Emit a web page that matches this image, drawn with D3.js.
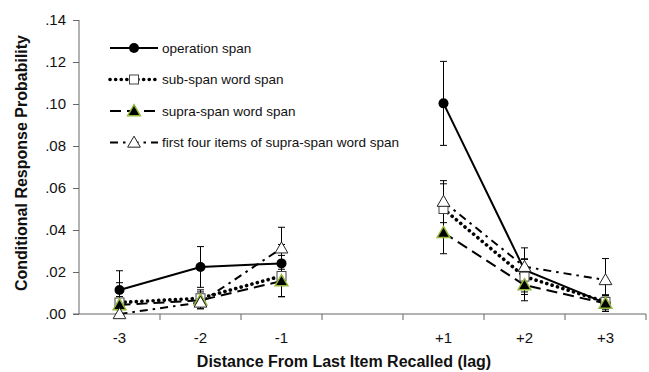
<!DOCTYPE html>
<html>
<head>
<meta charset="utf-8">
<script src="https://cdn.jsdelivr.net/npm/d3@7/dist/d3.min.js"></script>
<style>
  html, body { margin: 0; padding: 0; background: #fff; }
  svg { display: block; font-family: Arial, "Liberation Sans", sans-serif; }
</style>
</head>
<body>
<svg id="chart" width="649" height="372"></svg>
<script>
// ---- data ----
const categories = ["-3", "-2", "-1", "0", "+1", "+2", "+3"];
const yTicks = [0, 0.02, 0.04, 0.06, 0.08, 0.10, 0.12, 0.14];
const seriesNames = ["operation span", "sub-span word span", "supra-span word span", "first four items of supra-span word span"];

const operationSpan    = [0.0114, 0.0224, 0.0241, null, 0.1003, 0.0210, 0.0052];
const operationErr     = [0.0092, 0.0097, 0.0090, null, 0.0200, 0.0105, 0.0040];
const subSpan          = [0.0055, 0.0075, 0.0181, null, 0.0500, 0.0178, 0.0058];
const subSpanErr       = [0.0094, 0.0040, 0.0098, null, 0.0120, 0.0085, 0.0030];
const supraSpan        = [0.0043, 0.0065, 0.0157, null, 0.0387, 0.0138, 0.0050];
const supraSpanErr     = [0.0040, 0.0040, 0.0075, null, 0.0100, 0.0075, 0.0030];
const firstFour        = [0.0000, 0.0055, 0.0313, null, 0.0535, 0.0225, 0.0162];
const firstFourErr     = [0.0030, 0.0030, 0.0100, null, 0.0100, 0.0035, 0.0102];

(function () {
// ---- layout ----
const svg = d3.select("#chart");
const pL = 79, pR = 646, pT = 20, pB = 314;
const x = d3.scaleBand().domain(categories).range([pL, pR]).paddingInner(0).paddingOuter(0);
const y = d3.scaleLinear().domain([0, 0.14]).range([pB, pT]);
const cx = c => x(c) + x.bandwidth() / 2;
const green = "#93b83a";

// ---- axes ----
const yAxis = svg.append("g").attr("transform", `translate(${pL},0)`)
  .call(d3.axisLeft(y).tickValues(yTicks).tickSize(6).tickPadding(7)
    .tickFormat(d => d3.format(".2f")(d).replace(/^0/, "")));
yAxis.select(".domain").attr("stroke", "#666").attr("d", `M0,${pT}V${pB}`);
yAxis.selectAll(".tick line").attr("stroke", "#666");
yAxis.selectAll(".tick text").attr("font-size", 15).attr("fill", "#111").attr("font-family", "Arial, 'Liberation Sans', sans-serif");

svg.append("line").attr("x1", pL - 6).attr("x2", pR).attr("y1", pB).attr("y2", pB)
  .attr("stroke", "#666");
const bounds = categories.map(c => x(c)).concat([pR]).slice(1);
svg.selectAll(".xtick").data(bounds).enter().append("line")
  .attr("x1", d => d).attr("x2", d => d).attr("y1", pB).attr("y2", pB + 6)
  .attr("stroke", "#666");
svg.selectAll(".xlabel").data(categories.filter(c => c !== "0")).enter().append("text")
  .attr("x", d => cx(d)).attr("y", 343).attr("text-anchor", "middle")
  .attr("font-size", 15).attr("fill", "#111").text(d => d);

svg.append("text").attr("x", 344).attr("y", 367).attr("text-anchor", "middle")
  .attr("font-size", 16).attr("font-weight", "bold").attr("fill", "#111")
  .text("Distance From Last Item Recalled (lag)");
svg.append("text").attr("transform", `translate(27,${(pT + pB) / 2 - 4}) rotate(-90)`)
  .attr("text-anchor", "middle").attr("font-size", 16).attr("font-weight", "bold").attr("fill", "#111")
  .text("Conditional Response Probability");

// ---- series ----
const series = [
  { name: seriesNames[0], vals: operationSpan, err: operationErr, dash: null, width: 2, cap: "butt", marker: "circle" },
  { name: seriesNames[1], vals: subSpan, err: subSpanErr, dash: "0.1,5.5", width: 3.6, cap: "round", marker: "square" },
  { name: seriesNames[2], vals: supraSpan, err: supraSpanErr, dash: "11,6", width: 2, cap: "butt", marker: "gtri" },
  { name: seriesNames[3], vals: firstFour, err: firstFourErr, dash: "8,5,2.5,5", width: 2, cap: "butt", marker: "wtri" }
];

const tri = d3.symbol().type(d3.symbolTriangle).size(70);
function drawMarker(g, type, px, py) {
  if (type === "circle") {
    g.append("circle").attr("cx", px).attr("cy", py).attr("r", 5).attr("fill", "#000");
  } else if (type === "square") {
    g.append("rect").attr("x", px - 4.5).attr("y", py - 4.5).attr("width", 9).attr("height", 9)
      .attr("fill", "#fff").attr("stroke", "#444").attr("stroke-width", 1);
  } else if (type === "gtri") {
    g.append("path").attr("d", tri()).attr("transform", `translate(${px},${py + 1})`)
      .attr("fill", "#000").attr("stroke", green).attr("stroke-width", 1.5);
  } else {
    g.append("path").attr("d", tri()).attr("transform", `translate(${px},${py + 1})`)
      .attr("fill", "#fff").attr("stroke", "#222").attr("stroke-width", 1);
  }
}

const lineGen = d3.line().defined(d => d.v !== null).x(d => cx(d.c)).y(d => y(d.v));
const lineLayer = svg.append("g");
const errLayer = svg.append("g");
const markLayer = svg.append("g");

series.forEach(s => {
  const pts = categories.map((c, i) => ({ c, v: s.vals[i], e: s.err[i] }));
  lineLayer.append("path").datum(pts).attr("d", lineGen).attr("fill", "none")
    .attr("stroke", "#000").attr("stroke-width", s.width).attr("stroke-linecap", s.cap)
    .attr("stroke-dasharray", s.dash);
  pts.filter(p => p.v !== null).forEach(p => {
    const px = cx(p.c);
    const y1 = y(p.v + p.e), y2 = y(Math.max(0, p.v - p.e));
    errLayer.append("line").attr("x1", px).attr("x2", px).attr("y1", y1).attr("y2", y2)
      .attr("stroke", "#000").attr("stroke-width", 1);
    [y1, y2].forEach(yy => errLayer.append("line").attr("x1", px - 3.5).attr("x2", px + 3.5)
      .attr("y1", yy).attr("y2", yy).attr("stroke", "#000").attr("stroke-width", 1));
  });
});
series.forEach(s => {
  categories.forEach((c, i) => {
    if (s.vals[i] !== null) drawMarker(markLayer, s.marker, cx(c), y(s.vals[i]));
  });
});

// ---- legend ----
const legend = svg.append("g");
const legY = [48, 79.5, 111, 142.5];
series.forEach((s, i) => {
  const ly = legY[i];
  legend.append("line").attr("x1", 110).attr("x2", 158).attr("y1", ly).attr("y2", ly)
    .attr("stroke", "#000").attr("stroke-width", s.width).attr("stroke-linecap", s.cap)
    .attr("stroke-dasharray", s.dash);
  drawMarker(legend, s.marker, 134, ly);
  legend.append("text").attr("x", 162).attr("y", ly + 4.5).attr("font-size", 13.5).attr("fill", "#111")
    .text(s.name);
});
})();
</script>
</body>
</html>
